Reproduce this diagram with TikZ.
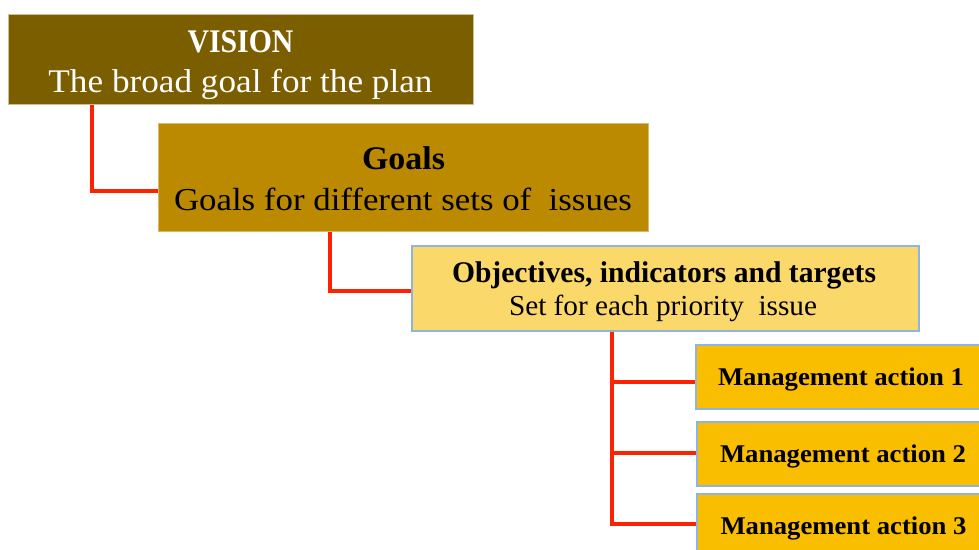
\documentclass[tikz,border=0pt]{standalone}
\usepackage{fontspec}
\usepackage{graphicx}
\setmainfont{Liberation Serif}
\definecolor{visionfill}{RGB}{123,94,0}
\definecolor{visionedge}{RGB}{205,190,150}
\definecolor{goalsfill}{RGB}{187,138,0}
\definecolor{goalsedge}{RGB}{215,185,110}
\definecolor{objfill}{RGB}{251,216,106}
\definecolor{mgmtfill}{RGB}{249,190,0}
\definecolor{blueedge}{RGB}{141,180,226}
\definecolor{linkred}{RGB}{255,34,0}
\newcommand\fitto[2]{\resizebox{#1}{\height}{#2}}
\begin{document}
\begin{tikzpicture}[x=1pt,y=-1pt,
  box/.style={rectangle, inner sep=0pt, anchor=north west},
  vbox/.style={box, fill=visionfill, draw=visionedge, line width=0.8pt},
  gbox/.style={box, fill=goalsfill, draw=goalsedge, line width=0.8pt},
  obox/.style={box, fill=objfill, draw=blueedge, line width=1.5pt},
  mbox/.style={box, fill=mgmtfill, draw=blueedge, line width=1.5pt},
  link/.style={draw=linkred, line width=4pt},
  txt/.style={inner sep=0pt, anchor=base}]
\useasboundingbox (0,0) rectangle (979,549);
\begin{scope}
\clip (0,0) rectangle (979,549);
\fill[white] (0,0) rectangle (979,549);
\node[vbox, minimum width=465pt, minimum height=90pt] (vision) at (8,14) {};
\node[gbox, minimum width=490pt, minimum height=108pt] (goals) at (158,123) {};
\node[obox, minimum width=507pt, minimum height=85pt] (obj) at (411,245) {};
\node[mbox, minimum width=292pt, minimum height=64pt] (m1) at (695,344) {};
\node[mbox, minimum width=292pt, minimum height=64pt] (m2) at (696,421) {};
\node[mbox, minimum width=292pt, minimum height=64pt] (m3) at (696,493) {};

\draw[link] ([xshift=84pt]vision.south west) |- ([yshift=-14pt]goals.west);
\draw[link] ([xshift=172pt]goals.south west) |- ([yshift=-2.5pt]obj.west);
\draw[link] ([xshift=201pt]obj.south west) |- ([yshift=-5pt]m1.west);
\draw[link] ([xshift=201pt]obj.south west) |- ([yshift=1pt]m2.west);
\draw[link] ([xshift=201pt]obj.south west) |- ([yshift=2pt]m3.west);

\node[txt, text=white] (visionA) at (240.5,52) {\fitto{106pt}{\fontsize{33}{36}\selectfont\bfseries VISION}};
\node[txt, text=white] (visionB) at (240.5,92) {\fitto{384pt}{\fontsize{33}{36}\selectfont The broad goal for the plan}};
\node[txt] (goalsA) at (403.5,169) {\fitto{83pt}{\fontsize{33}{36}\selectfont\bfseries Goals}};
\node[txt] (goalsB) at (403,210) {\fitto{458pt}{\fontsize{32}{36}\selectfont Goals for different sets of\ \ issues}};
\node[txt] (objA) at (664,282) {\fitto{424pt}{\fontsize{30}{34}\selectfont\bfseries Objectives, indicators and targets}};
\node[txt] (objB) at (663,315) {\fitto{308pt}{\fontsize{29}{33}\selectfont Set for each priority\ \ issue}};
\node[txt] (m1t) at (841,385) {\fitto{246pt}{\fontsize{25.5}{30}\selectfont\bfseries Management action 1}};
\node[txt] (m2t) at (843,462) {\fitto{246pt}{\fontsize{25.5}{30}\selectfont\bfseries Management action 2}};
\node[txt] (m3t) at (843.5,534) {\fitto{246pt}{\fontsize{25.5}{30}\selectfont\bfseries Management action 3}};
\end{scope}
\end{tikzpicture}
\end{document}
